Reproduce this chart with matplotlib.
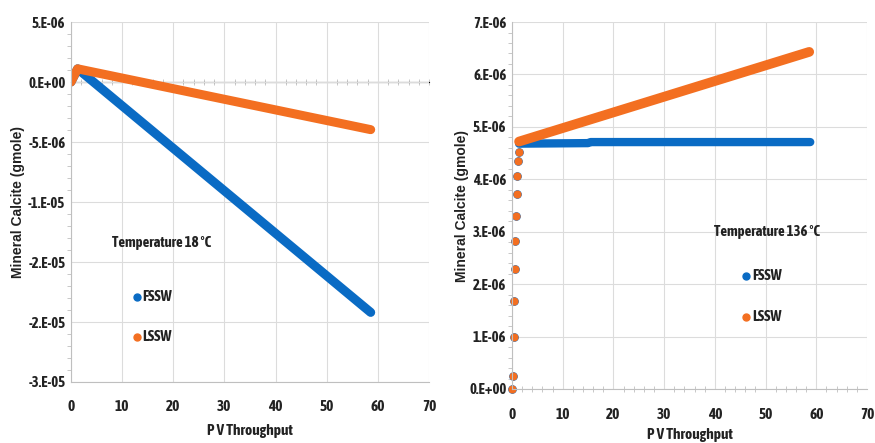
import matplotlib.pyplot as plt
from matplotlib.ticker import MultipleLocator, FixedLocator

# ---- data ----
# left panel, 18 C
pv_18 = [0.0, 1.3, 58.6]
fssw_18 = [0.0, 1.1e-06, -1.92e-05]
lssw_18 = [0.0, 1.1e-06, -3.97e-06]

# right panel, 136 C : early discrete points then two straight runs
pv_136_dots = [0.0, 0.26, 0.33, 0.40, 0.53, 0.66, 0.79, 0.92, 1.05, 1.18, 1.32]
calc_136_dots = [0.0, 0.24e-06, 0.99e-06, 1.68e-06, 2.29e-06, 2.82e-06,
                 3.30e-06, 3.72e-06, 4.07e-06, 4.34e-06, 4.53e-06]
pv_136_fssw = [1.4, 15.0, 15.5, 58.8]
fssw_136 = [4.68e-06, 4.69e-06, 4.71e-06, 4.71e-06]
pv_136_lssw = [1.4, 58.6]
lssw_136 = [4.72e-06, 6.43e-06]

yticks_18 = [5e-06, 0.0, -5e-06, -1e-05, -1.5e-05, -2e-05, -2.5e-05]
ylabels_18 = ['5.E-06', '0.E+00', '-5.E-06', '-1.E-05', '-2.E-05', '-2.E-05', '-3.E-05']
yticks_136 = [0, 1e-06, 2e-06, 3e-06, 4e-06, 5e-06, 6e-06, 7e-06]
ylabels_136 = ['0.E+00', '1.E-06', '2.E-06', '3.E-06', '4.E-06', '5.E-06', '6.E-06', '7.E-06']
xticks = [0, 10, 20, 30, 40, 50, 60, 70]

BLUE = '#0A6BC4'
ORANGE = '#F36F21'
NARROW = ['Asap Condensed', 'Liberation Sans', 'DejaVu Sans']
WIDE = ['Liberation Sans', 'DejaVu Sans']
INK = '#222222'

fig = plt.figure(figsize=(8.75, 4.43), dpi=100)
ax1 = fig.add_axes([0.0811, 0.1377, 0.4092, 0.8126])
ax2 = fig.add_axes([0.5851, 0.1219, 0.4058, 0.8284])


def style(ax, yticks, ylabels, ylim):
    ax.set_xlim(0, 70)
    ax.set_ylim(*ylim)
    ax.set_xticks(xticks)
    ax.set_xticklabels([str(t) for t in xticks], family=NARROW, fontweight='bold',
                       fontsize=11, color=INK)
    ax.yaxis.set_major_locator(FixedLocator(yticks))
    ax.set_yticklabels(ylabels, family=NARROW, fontweight='bold', fontsize=10.5, color=INK)
    ax.yaxis.set_minor_locator(MultipleLocator(abs(yticks[1] - yticks[0]) / 5))
    ax.grid(True, which='major', color='#DCDCDC', linewidth=0.8)
    ax.set_axisbelow(True)
    for s in ['top', 'right']:
        ax.spines[s].set_visible(False)
    for s in ['left', 'bottom']:
        ax.spines[s].set_color('#BFBFBF')
    ax.tick_params(axis='both', which='major', length=0, pad=4)
    ax.tick_params(axis='x', which='major', pad=13)
    ax.tick_params(axis='y', which='minor', length=3, color='#BFBFBF', direction='out')
    ax.set_xlabel('P V Throughput', family=NARROW, fontweight='bold', fontsize=11,
                  labelpad=7, color=INK)
    ax.set_ylabel('Mineral Calcite (gmole)', family=WIDE, fontweight='bold', fontsize=10,
                  labelpad=2, color=INK)


def legend_text(ax, tx, ty, mx, fy, ly, title):
    ax.text(tx, ty, title, transform=ax.transAxes, family=NARROW, fontweight='bold',
            fontsize=10.5, ha='left', va='center', color=INK)
    ax.plot([mx], [fy], 'o', color=BLUE, markersize=5, transform=ax.transAxes)
    ax.plot([mx], [ly], 'o', color=ORANGE, markersize=5, transform=ax.transAxes)
    ax.text(mx + 0.016, fy, 'FSSW', transform=ax.transAxes, family=NARROW, fontweight='bold',
            fontsize=11, ha='left', va='center', color=INK)
    ax.text(mx + 0.016, ly, 'LSSW', transform=ax.transAxes, family=NARROW, fontweight='bold',
            fontsize=11, ha='left', va='center', color=INK)


# ---- left: 18 C ----
style(ax1, yticks_18, ylabels_18, (-2.5e-05, 5e-06))
# horizontal axis crossing at zero, Excel style
zero_ax = ax1.secondary_xaxis((0 - (-2.5e-05)) / 3e-05)
zero_ax.set_xticks([])
zero_ax.xaxis.set_minor_locator(MultipleLocator(2))
zero_ax.tick_params(which='minor', length=4, color='#BFBFBF', direction='inout')
zero_ax.spines['bottom'].set_color('#BFBFBF')
zero_ax.spines['bottom'].set_linewidth(1.2)

ax1.plot(pv_18, fssw_18, color=BLUE, linewidth=6.5, solid_capstyle='round', solid_joinstyle='round')
ax1.plot(pv_18, lssw_18, color=ORANGE, linewidth=6.5, solid_capstyle='round', solid_joinstyle='round')

legend_text(ax1, 0.115, 0.386, 0.184, 0.236, 0.125, 'Temperature 18 °C')

# ---- right: 136 C ----
style(ax2, yticks_136, ylabels_136, (0, 7e-06))
ax2.xaxis.set_minor_locator(MultipleLocator(2))
ax2.tick_params(axis='x', which='minor', length=4, color='#BFBFBF', direction='inout')
ax2.tick_params(axis='x', which='major', pad=14)
ax2.xaxis.labelpad = 4
ax2.yaxis.labelpad = 0

ax2.plot(pv_136_fssw, fssw_136, color=BLUE, linewidth=6, solid_capstyle='round')
ax2.plot(pv_136_dots, calc_136_dots, 'o', color=BLUE, markersize=5.2, clip_on=False)
ax2.plot(pv_136_lssw, lssw_136, color=ORANGE, linewidth=7, solid_capstyle='round')
ax2.plot(pv_136_dots, calc_136_dots, 'o', color=ORANGE, markersize=4.8, clip_on=False)

legend_text(ax2, 0.569, 0.428, 0.66, 0.308, 0.196, 'Temperature 136 °C')

plt.savefig('out.png', dpi=100)
